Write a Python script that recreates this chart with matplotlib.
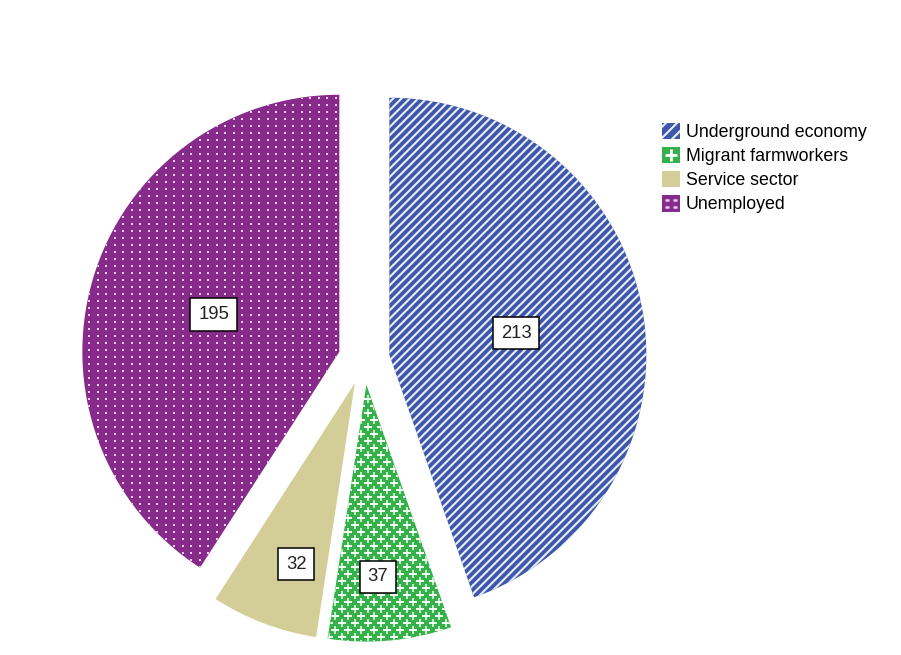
import numpy as np
import matplotlib.pyplot as plt
from matplotlib.legend_handler import HandlerPatch
from matplotlib.patches import Rectangle
from matplotlib.lines import Line2D

plt.rcParams['font.family'] = ['Liberation Sans', 'DejaVu Sans']
plt.rcParams['hatch.linewidth'] = 1.5

categories = ["Underground economy", "Migrant farmworkers", "Service sector", "Unemployed"]
values = [213, 37, 32, 195]
colors = ["#3F57A9", "#36B04B", "#D3CE98", "#872B8B"]
label_dist = [0.60, 0.85, 0.84, 0.61]
label_turn = [0.0, -1.6, 2.5, 0.0]  # small nudges of the value boxes, degrees

R_PX = 257.0  # pie radius in pixels
cx, cy = 364, 359  # pie centre in pixels (from top-left)
W, H = 901, 655

fig = plt.figure(figsize=(W / 100, H / 100), dpi=100)
ax = fig.add_axes([0, 0, 1, 1])

wedges, _ = ax.pie(values, startangle=90, counterclock=False,
                   explode=[0.1] * 4, colors=colors,
                   wedgeprops=dict(linewidth=0))
ax.set_xlim(-cx / R_PX, (W - cx) / R_PX)
ax.set_ylim(-(H - cy) / R_PX, cy / R_PX)
ax.set_aspect('equal')
ax.axis('off')

# diagonal white stripes on the first slice
wedges[0].set_hatch('////')
wedges[0].set_edgecolor('#E8EEFF')


def texture(wedge, kind):
    step = 1.0 / R_PX
    xs = np.arange(-1.3, 1.3, step * (13 if kind == 'cross' else 8.5))
    ys = np.arange(-1.3, 1.3, step * 7)
    px, py = [], []
    for j, y in enumerate(ys):
        shift = (6.5 * step) if (kind == 'cross' and j % 2) else 0
        for x in xs:
            px.append(x + shift)
            py.append(y)
    if kind == 'cross':
        ln, = ax.plot(px, py, ls='none', marker='+', ms=5.8, mew=1.1, color='#F4FFF4')
    else:
        ln, = ax.plot(px, py, ls='none', marker='_', ms=2.0, mew=1.2, color='#F0C8F0')
    ln.set_clip_path(wedge)


texture(wedges[1], 'cross')
texture(wedges[3], 'dot')

# value boxes
total = sum(values)
start = 90.0
for v, d, t in zip(values, label_dist, label_turn):
    span = 360.0 * v / total
    mid = np.deg2rad(start - span / 2 + t)
    ax.text(d * np.cos(mid), d * np.sin(mid), str(v), ha='center', va='center',
            fontsize=13.3, color='#222222',
            bbox=dict(boxstyle='square,pad=0.42', fc='white', ec='black', lw=1.1))
    start -= span


class TexturedHandler(HandlerPatch):
    def __init__(self, kind):
        super().__init__()
        self.kind = kind

    def create_artists(self, legend, orig_handle, xdescent, ydescent,
                       width, height, fontsize, trans):
        rect = Rectangle((-xdescent, -ydescent), width, height,
                         fc=orig_handle.get_facecolor(), lw=0, transform=trans)
        arts = [rect]
        if self.kind == 'cross':
            arts.append(Line2D([width / 2 - xdescent], [height / 2 - ydescent], marker='+',
                               ms=9, mew=2, color='white', ls='none', transform=trans))
        elif self.kind == 'dot':
            gx = [width * 0.3 - xdescent, width * 0.7 - xdescent] * 2
            gy = [height * 0.3 - ydescent] * 2 + [height * 0.7 - ydescent] * 2
            arts.append(Line2D(gx, gy, marker='_', ms=3, mew=1.8, color='#F0C8F0',
                               ls='none', transform=trans))
        return arts


h0 = Rectangle((0, 0), 1, 1, fc=colors[0], ec='#E8EEFF', hatch='///', lw=0)
h1 = Rectangle((0, 0), 1, 1, fc=colors[1])
h2 = Rectangle((0, 0), 1, 1, fc=colors[2], lw=0)
h3 = Rectangle((0, 0), 1, 1, fc=colors[3])
fig.legend([h0, h1, h2, h3], categories, loc='upper left',
           bbox_to_anchor=(658 / W, 1 - 119 / H), frameon=False,
           fontsize=12.8, handlelength=1.05, handleheight=1.05,
           labelspacing=0.33, handletextpad=0.3, borderaxespad=0, borderpad=0.2,
           handler_map={h1: TexturedHandler('cross'), h3: TexturedHandler('dot')})

fig.savefig('out.png', dpi=100)
